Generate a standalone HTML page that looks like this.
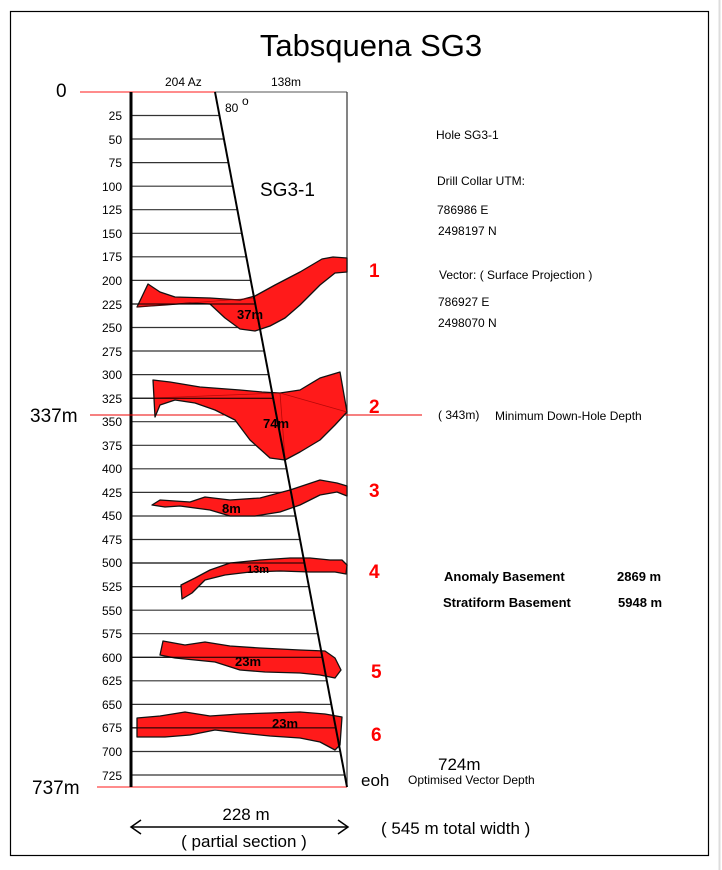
<!DOCTYPE html>
<html><head><meta charset="utf-8"><style>
html,body{margin:0;padding:0;background:#fff;}
svg{display:block;font-family:"Liberation Sans",Arial,sans-serif;}
</style></head><body>
<svg width="722" height="870" viewBox="0 0 722 870" xmlns="http://www.w3.org/2000/svg">
<rect x="0" y="0" width="722" height="870" fill="#fff"/>
<line x1="719.5" y1="0" x2="719.5" y2="870" stroke="#ddd" stroke-width="2"/>
<rect x="10.5" y="11.5" width="698" height="844" fill="none" stroke="#000" stroke-width="1.2"/>
<text x="371" y="56" font-size="31" text-anchor="middle" fill="#000">Tabsquena SG3</text>

<!-- grid lines -->
<g stroke="#333" stroke-width="1.2">
<line x1="131" y1="115.5" x2="219.5" y2="115.5"/>
<line x1="131" y1="139" x2="224" y2="139"/>
<line x1="131" y1="162.6" x2="228.5" y2="162.6"/>
<line x1="131" y1="186.2" x2="233" y2="186.2"/>
<line x1="131" y1="209.7" x2="237.3" y2="209.7"/>
<line x1="131" y1="233.3" x2="241.8" y2="233.3"/>
<line x1="131" y1="256.8" x2="246.3" y2="256.8"/>
<line x1="131" y1="280.4" x2="250.8" y2="280.4"/>
<line x1="131" y1="304" x2="255.2" y2="304"/>
<line x1="131" y1="327.5" x2="259.7" y2="327.5"/>
<line x1="131" y1="351" x2="264.2" y2="351"/>
<line x1="131" y1="374.6" x2="268.7" y2="374.6"/>
<line x1="131" y1="398.2" x2="273.1" y2="398.2"/>
<line x1="131" y1="421.7" x2="277.6" y2="421.7"/>
<line x1="131" y1="445.3" x2="282.1" y2="445.3"/>
<line x1="131" y1="468.8" x2="286.6" y2="468.8"/>
<line x1="131" y1="492.4" x2="291" y2="492.4"/>
<line x1="131" y1="516" x2="295.5" y2="516"/>
<line x1="131" y1="539.5" x2="300" y2="539.5"/>
<line x1="131" y1="563" x2="304.5" y2="563"/>
<line x1="131" y1="586.6" x2="309" y2="586.6"/>
<line x1="131" y1="610.2" x2="313.4" y2="610.2"/>
<line x1="131" y1="633.7" x2="317.9" y2="633.7"/>
<line x1="131" y1="657.3" x2="322.4" y2="657.3"/>
<line x1="131" y1="680.8" x2="326.9" y2="680.8"/>
<line x1="131" y1="704.4" x2="331.3" y2="704.4"/>
<line x1="131" y1="727.9" x2="335.8" y2="727.9"/>
<line x1="131" y1="751.5" x2="340.3" y2="751.5"/>
<line x1="131" y1="775" x2="344.7" y2="775"/>
</g>
<g font-size="12" text-anchor="end" fill="#000">
<text x="122" y="120">25</text><text x="122" y="144">50</text><text x="122" y="167">75</text>
<text x="122" y="191">100</text><text x="122" y="214">125</text><text x="122" y="238">150</text>
<text x="122" y="261">175</text><text x="122" y="285">200</text><text x="122" y="309">225</text>
<text x="122" y="332">250</text><text x="122" y="356">275</text><text x="122" y="379">300</text>
<text x="122" y="403">325</text><text x="122" y="426">350</text><text x="122" y="450">375</text>
<text x="122" y="473">400</text><text x="122" y="497">425</text><text x="122" y="520">450</text>
<text x="122" y="544">475</text><text x="122" y="567">500</text><text x="122" y="591">525</text>
<text x="122" y="615">550</text><text x="122" y="638">575</text><text x="122" y="662">600</text>
<text x="122" y="685">625</text><text x="122" y="709">650</text><text x="122" y="732">675</text>
<text x="122" y="756">700</text><text x="122" y="780">725</text>
</g>

<!-- frame -->
<line x1="215" y1="92" x2="347" y2="92" stroke="#777" stroke-width="1.2"/>
<line x1="347" y1="92" x2="347" y2="787" stroke="#333" stroke-width="1.2"/>
<line x1="80" y1="92" x2="215" y2="92" stroke="#f66" stroke-width="1.5"/>
<line x1="97" y1="787" x2="347" y2="787" stroke="#f66" stroke-width="1.5"/>
<line x1="131" y1="92" x2="131" y2="787" stroke="#000" stroke-width="3"/>
<line x1="90" y1="415" x2="422" y2="415" stroke="#e00" stroke-width="1"/>

<!-- bodies -->
<g fill="#ff1a1a" stroke="#111" stroke-width="1.3" stroke-linejoin="round">
<polygon points="137,307 148,284 160,292 175,297 210,298 240,300 255,296 275,285 300,272 322,259 333,257 347,258 347,272 335,273 320,285 300,305 285,318 270,326 255,331 240,329 225,318 210,304 190,303 165,305 150,306"/>
<polygon points="153,380 170,382 200,387 240,390 262,392 280,393 300,390 320,378 340,372 347,412 335,425 320,440 300,452 285,460 270,458 250,440 235,420 215,410 195,403 175,400 160,405 155,417"/>
<polygon points="152,505 160,500 190,502 205,497 230,500 260,498 290,490 320,480 337,483 347,486 347,496 337,492 320,495 300,505 280,512 255,516 230,516 210,510 180,506 165,507"/>
<polygon points="181,585 195,578 210,570 230,563 260,560 290,558 310,558 330,560 342,560 347,565 346,574 335,572 310,572 280,571 250,572 225,575 205,580 192,593 182,599"/>
<polygon points="163,641 185,645 205,642 230,646 260,648 300,650 325,651 335,658 341,670 335,678 320,675 300,673 265,672 240,670 215,662 195,660 175,658 160,655"/>
<polygon points="137,718 160,716 185,712 210,716 240,714 270,713 300,712 325,714 342,717 340,745 335,750 320,742 300,738 270,736 240,733 215,730 190,735 165,737 137,737"/>
</g>
<g stroke="#900" stroke-width="0.8" fill="none" opacity="0.7">
<line x1="137" y1="307" x2="255" y2="298"/><line x1="153" y1="398" x2="280" y2="393"/>
<line x1="280" y1="393" x2="347" y2="412"/><line x1="280" y1="393" x2="285" y2="458"/>
</g>
<g stroke="#000" stroke-width="1">
<line x1="131" y1="304" x2="255" y2="304"/><line x1="131" y1="398.2" x2="273" y2="398.2"/>
<line x1="131" y1="563" x2="304" y2="563"/><line x1="131" y1="657.3" x2="322" y2="657.3"/>
<line x1="131" y1="727.9" x2="336" y2="727.9"/>
</g>
<!-- drill line -->
<line x1="215" y1="92" x2="347" y2="787" stroke="#000" stroke-width="2"/>

<g font-size="13" font-weight="bold" fill="#000">
<text x="237" y="319">37m</text><text x="263" y="428">74m</text><text x="222" y="513">8m</text>
<text x="247" y="573" font-size="11">13m</text><text x="235" y="666">23m</text><text x="272" y="728">23m</text>
</g>
<g font-size="19" font-weight="bold" fill="#f00">
<text x="369" y="277">1</text><text x="369" y="413">2</text><text x="369" y="497">3</text>
<text x="369" y="578">4</text><text x="371" y="678">5</text><text x="371" y="741">6</text>
</g>

<text x="56" y="97" font-size="19">0</text>
<text x="30" y="422" font-size="19">337m</text>
<text x="32" y="794" font-size="19">737m</text>
<text x="165" y="86" font-size="12">204 Az</text>
<text x="271" y="86" font-size="12">138m</text>
<text x="225" y="112" font-size="12">80</text><text x="242" y="105" font-size="12">o</text>
<text x="260" y="196" font-size="19">SG3-1</text>

<g font-size="12" fill="#000">
<text x="436" y="139">Hole SG3-1</text>
<text x="437" y="185">Drill Collar UTM:</text>
<text x="437" y="214">786986 E</text>
<text x="438" y="235">2498197 N</text>
<text x="439" y="279">Vector:  ( Surface Projection )</text>
<text x="438" y="306">786927 E</text>
<text x="438" y="327">2498070 N</text>
<text x="438" y="419">( 343m)</text>
<text x="495" y="420">Minimum Down-Hole Depth</text>
<text x="408" y="784">Optimised Vector Depth</text>
</g>
<g font-size="13" font-weight="bold" fill="#000">
<text x="444" y="581">Anomaly Basement</text><text x="617" y="581">2869 m</text>
<text x="443" y="607">Stratiform Basement</text><text x="618" y="607">5948 m</text>
</g>
<text x="438" y="770" font-size="17">724m</text>
<text x="361" y="786" font-size="17">eoh</text>
<text x="381" y="834" font-size="17">( 545 m total width )</text>
<text x="246" y="820" font-size="17" text-anchor="middle">228 m</text>
<text x="244" y="847" font-size="17" text-anchor="middle">( partial section )</text>
<g stroke="#000" stroke-width="1.5" fill="none">
<line x1="131" y1="827" x2="348" y2="827"/>
<polyline points="141,820 131,827 141,834"/>
<polyline points="338,820 348,827 338,834"/>
</g>
</svg>
</body></html>
